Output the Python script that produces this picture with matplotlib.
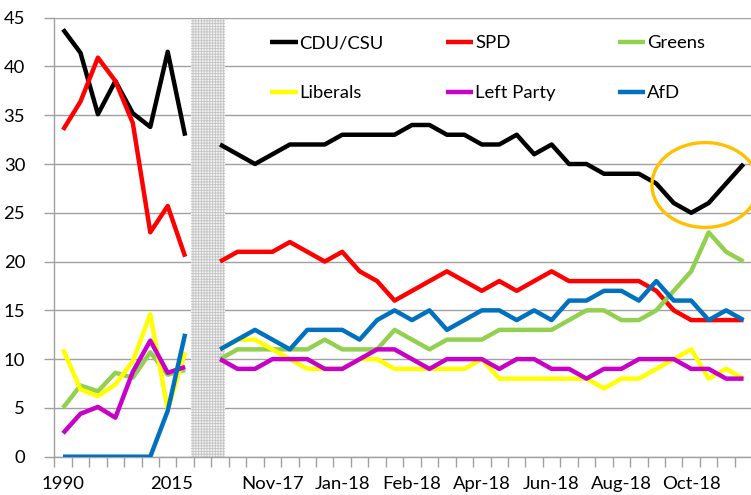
import numpy as np
import matplotlib
matplotlib.use('Agg')
from matplotlib import pyplot as plt
from matplotlib.patches import Ellipse

# federal election results, 1990-2017
years = ['1990', '1994', '1998', '2002', '2005', '2009', '2013', '2017']
cdu_votes = [43.8, 41.4, 35.1, 38.5, 35.2, 33.8, 41.5, 32.9]
spd_votes = [33.5, 36.4, 40.9, 38.5, 34.2, 23.0, 25.7, 20.5]
greens_votes = [5.0, 7.3, 6.7, 8.6, 8.1, 10.7, 8.4, 8.9]
fdp_votes = [11.0, 6.9, 6.2, 7.4, 9.8, 14.6, 4.8, 10.7]
left_votes = [2.4, 4.4, 5.1, 4.0, 8.7, 11.9, 8.6, 9.2]
afd_votes = [0, 0, 0, 0, 0, 0, 4.7, 12.6]

# opinion polls after the 2017 election
cdu_polls = [32, 31, 30, 31, 32, 32, 32, 33, 33, 33, 33, 34, 34, 33, 33, 32,
             32, 33, 31, 32, 30, 30, 29, 29, 29, 28, 26, 25, 26, 28, 30]
spd_polls = [20, 21, 21, 21, 22, 21, 20, 21, 19, 18, 16, 17, 18, 19, 18, 17,
             18, 17, 18, 19, 18, 18, 18, 18, 18, 17, 15, 14, 14, 14, 14]
greens_polls = [10, 11, 11, 11, 11, 11, 12, 11, 11, 11, 13, 12, 11, 12, 12, 12,
                13, 13, 13, 13, 14, 15, 15, 14, 14, 15, 17, 19, 23, 21, 20]
fdp_polls = [11, 12, 12, 11, 10, 9, 9, 9, 10, 10, 9, 9, 9, 9, 9, 10,
             8, 8, 8, 8, 8, 8, 7, 8, 8, 9, 10, 11, 8, 9, 8]
left_polls = [10, 9, 9, 10, 10, 10, 9, 9, 10, 11, 11, 10, 9, 10, 10, 10,
              9, 10, 10, 9, 9, 8, 9, 9, 10, 10, 10, 9, 9, 8, 8]
afd_polls = [11, 12, 13, 12, 11, 13, 13, 13, 12, 14, 15, 14, 15, 13, 14, 15,
             15, 14, 15, 14, 16, 16, 17, 17, 16, 18, 16, 16, 14, 15, 14]

tick_labels = ['1990', '2015', 'Nov-17', 'Jan-18', 'Feb-18', 'Apr-18',
               'Jun-18', 'Aug-18', 'Oct-18']
tick_cats = [0, 6.2, 12, 16, 20, 24, 28, 32, 36]


def make_chart():
    plt.rcParams['font.family'] = ['Lato', 'DejaVu Sans']
    plt.rcParams['font.size'] = 13.3
    plt.rcParams['hatch.linewidth'] = 0.6
    plt.rcParams['hatch.color'] = '#c4c4c4'

    fig = plt.figure(figsize=(7.51, 4.95), dpi=100)
    ax = fig.add_axes([0.0723, 0.0774, 0.9294, 0.8869])

    n_votes = len(years)
    x_votes = np.arange(n_votes)
    x_polls = np.arange(n_votes + 1, n_votes + 1 + len(cdu_polls))

    # gap between election results and polls
    ax.axvspan(7.36, 9.28, ymin=0, ymax=0.997, facecolor='#f2f2f2',
               edgecolor='#c4c4c4', hatch='++++++', linewidth=0, zorder=1)

    series = [
        ('CDU/CSU', cdu_votes, cdu_polls, '#000000'),
        ('SPD', spd_votes, spd_polls, '#ff0000'),
        ('Greens', greens_votes, greens_polls, '#92d050'),
        ('Liberals', fdp_votes, fdp_polls, '#ffff00'),
        ('Left Party', left_votes, left_polls, '#c800c8'),
        ('AfD', afd_votes, afd_polls, '#0070c0'),
    ]
    handles = {}
    for name, votes, polls, col in series:
        ax.plot(x_votes, votes, color=col, lw=3.2, zorder=3,
                solid_joinstyle='round', solid_capstyle='butt')
        ln, = ax.plot(x_polls, polls, color=col, lw=3.2, zorder=3,
                      solid_joinstyle='round', solid_capstyle='butt', label=name)
        handles[name] = ln

    order = ['CDU/CSU', 'Liberals', 'SPD', 'Left Party', 'Greens', 'AfD']
    ax.legend([handles[k] for k in order], order, ncol=3, frameon=False,
              loc='upper left', bbox_to_anchor=(0.309, 0.96),
              borderaxespad=0, borderpad=0, handlelength=1.5,
              handletextpad=0.1, columnspacing=3.35, labelspacing=1.85)

    ax.add_patch(Ellipse((36.8, 27.85), 6.1, 8.7, fill=False,
                         edgecolor='#ffc000', lw=2.4, zorder=4, clip_on=False))

    ax.set_xlim(-0.5, 39.5)
    ax.set_ylim(0, 45)
    ax.set_yticks(np.arange(0, 46, 5))
    ax.yaxis.grid(True, color='#a0a0a0', lw=1)
    ax.set_axisbelow(True)

    # labels on a few categories, tick marks on every category boundary
    ax.set_xticks(tick_cats)
    ax.set_xticklabels(tick_labels)
    ax.set_xticks(np.arange(-0.5, 40, 1), minor=True)
    ax.tick_params(axis='x', which='major', length=0, pad=14)
    ax.tick_params(axis='x', which='minor', length=7, width=1, color='#a0a0a0')
    ax.tick_params(axis='y', length=7, width=1, color='#a0a0a0', pad=14)

    for side in ['top', 'right']:
        ax.spines[side].set_visible(False)
    for side in ['left', 'bottom']:
        ax.spines[side].set_color('#a0a0a0')
        ax.spines[side].set_linewidth(1)

    fig.savefig('out.png', dpi=100)
    plt.close(fig)


make_chart()
